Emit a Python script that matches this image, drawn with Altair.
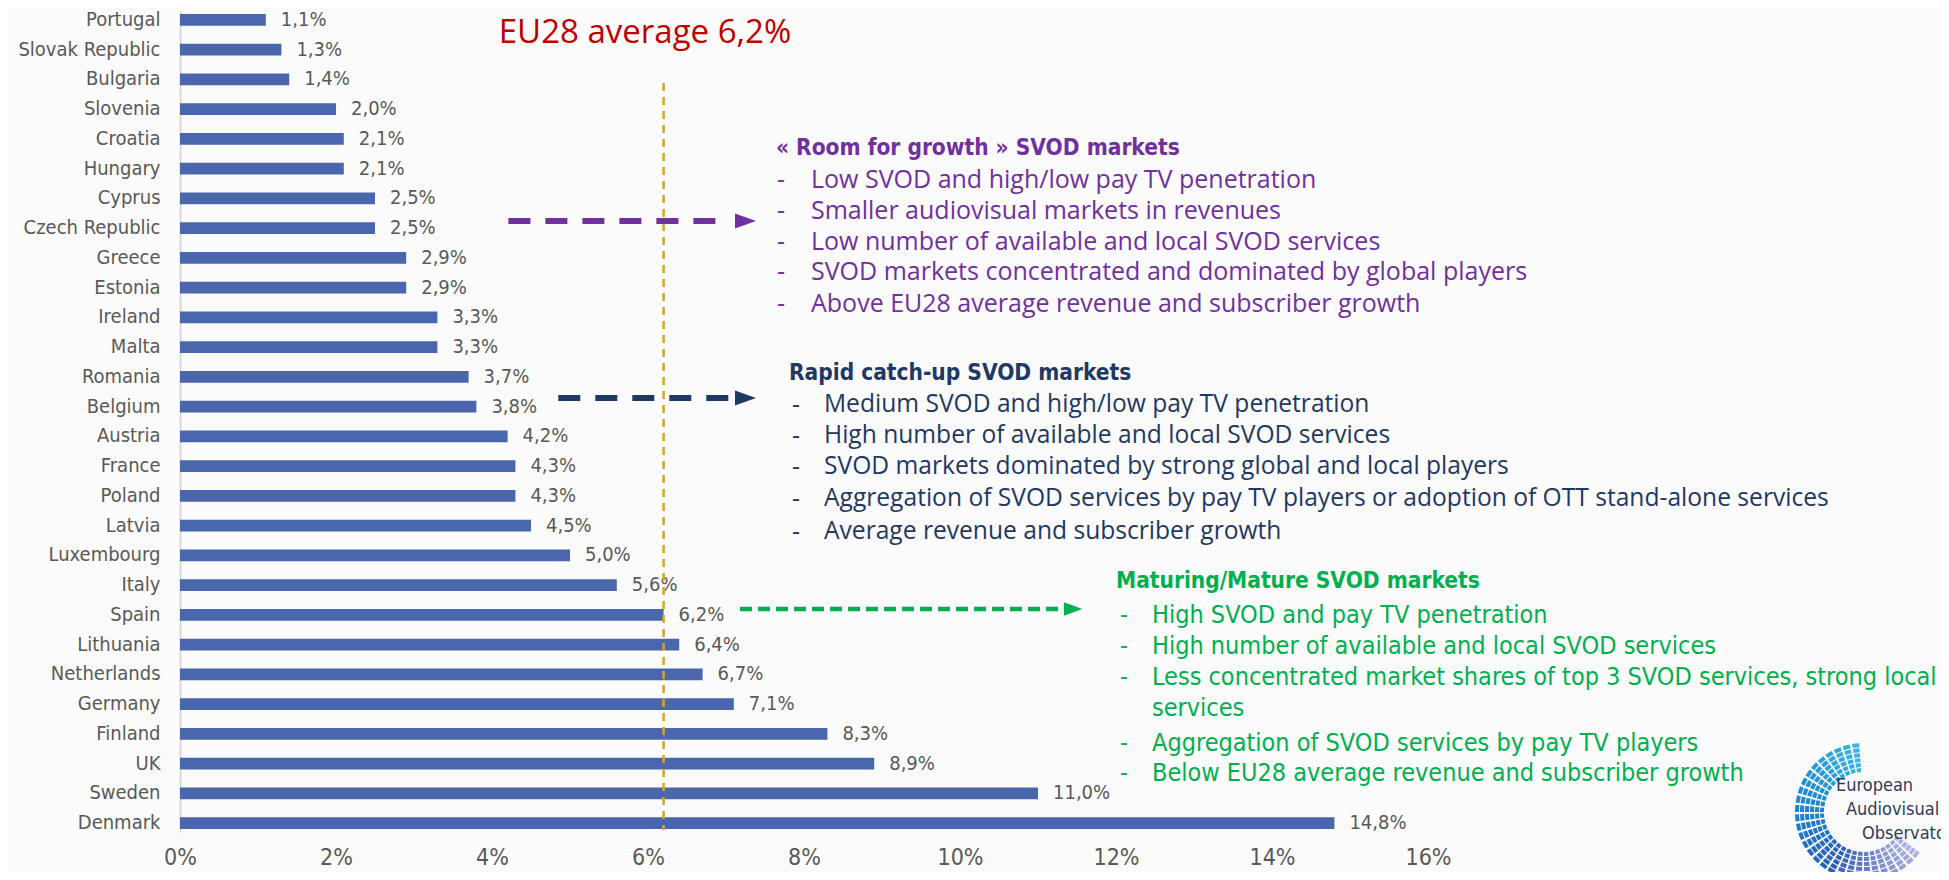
import altair as alt
import pandas as pd

# ---------------- data ----------------
countries = ["Portugal", "Slovak Republic", "Bulgaria", "Slovenia", "Croatia", "Hungary",
             "Cyprus", "Czech Republic", "Greece", "Estonia", "Ireland", "Malta", "Romania",
             "Belgium", "Austria", "France", "Poland", "Latvia", "Luxembourg", "Italy", "Spain",
             "Lithuania", "Netherlands", "Germany", "Finland", "UK", "Sweden", "Denmark"]
penetration = [1.1, 1.3, 1.4, 2.0, 2.1, 2.1, 2.5, 2.5, 2.9, 2.9, 3.3, 3.3, 3.7, 3.8, 4.2,
               4.3, 4.3, 4.5, 5.0, 5.6, 6.2, 6.4, 6.7, 7.1, 8.3, 8.9, 11.0, 14.8]
x_ticks = [0, 2, 4, 6, 8, 10, 12, 14, 16]
eu_average = [6.2]
eu_title = "EU28 average 6,2%"

room_title = "« Room for growth » SVOD markets"
room_lines = ["Low SVOD and high/low pay TV penetration",
              "Smaller audiovisual markets in revenues",
              "Low number of available and local SVOD services",
              "SVOD markets concentrated and dominated by global players",
              "Above EU28 average revenue and subscriber growth"]
rapid_title = "Rapid catch-up SVOD markets"
rapid_lines = ["Medium SVOD and high/low pay TV penetration",
               "High number of available and local SVOD services",
               "SVOD markets dominated by strong global and local players",
               "Aggregation of SVOD services by pay TV players or adoption of OTT stand-alone services",
               "Average revenue and subscriber growth"]
mature_title = "Maturing/Mature SVOD markets"
mature_lines = ["High SVOD and pay TV penetration",
                "High number of available and local SVOD services",
                "Less concentrated market shares of top 3 SVOD services, strong local",
                "services",
                "Aggregation of SVOD services by pay TV players",
                "Below EU28 average revenue and subscriber growth"]
mature_dash = [True, True, True, False, True, True]
logo_words = ["European", "Audiovisual", "Observatory"]

# arrows: start / end of dashed shaft and arrow head position, in % units
arrow_start = [4.21, 4.85, 7.18]
arrow_end = [7.05, 7.05, 11.3]
arrow_head = [7.25, 7.25, 11.45]

# ---------------- styling ----------------
NARROW = "Liberation Sans Narrow, DejaVu Sans Condensed, sans-serif"
SANS = "Open Sans, sans-serif"
GREY = "#595959"
PURPLE = "#7030A0"
NAVY = "#1F3864"
GREEN = "#00B050"
BAR = "#4A66AC"

df = pd.DataFrame({"country": countries, "value": penetration})
df["label"] = [f"{v:.1f}".replace(".", ",") + "%" for v in penetration]

x_enc = alt.X("value:Q", title=None,
              scale=alt.Scale(domain=[0, 16], nice=False, zero=True),
              axis=alt.Axis(values=x_ticks, labelExpr="datum.value + '%'", domain=False,
                            ticks=False, grid=False, labelFontSize=23, labelColor=GREY,
                            labelFont=NARROW, labelPadding=14, labelFlush=False))
y_enc = alt.Y("country:N", sort=countries, title=None,
              scale=alt.Scale(paddingInner=0.6, paddingOuter=0.1),
              axis=alt.Axis(ticks=False, domainColor="#D9D9D9", domainWidth=2,
                            labelPadding=20, labelFontSize=20, labelColor=GREY,
                            labelFont=NARROW, grid=False))

bars = alt.Chart(df).mark_bar(color=BAR).encode(x=x_enc, y=y_enc)
labels = alt.Chart(df).mark_text(align="left", baseline="middle", dx=15, fontSize=20,
                                 font=NARROW, color=GREY).encode(
    x=alt.X("value:Q", title=None), y=alt.Y("country:N", sort=countries, title=None),
    text="label:N")

OX, OY = 180, 11  # plot origin on the page

avg_df = pd.DataFrame({"avg": eu_average})
avg_rule = alt.Chart(avg_df).mark_rule(color="#D4A72C", strokeWidth=2.5,
                                       strokeDash=[8, 6]).encode(
    x=alt.X("avg:Q", title=None), y=alt.value(83 - OY), y2=alt.value(830 - OY))
avg_text = alt.Chart(avg_df).mark_text(text=eu_title, fontSize=33, font=SANS,
                                       color="#C00000", align="center",
                                       baseline="middle").encode(
    x=alt.value(645 - OX), y=alt.value(33 - OY))

layers = [bars, labels, avg_rule, avg_text]


def txt(s, px, py, color, size, font, weight="normal"):
    return alt.Chart(pd.DataFrame({"t": [s]})).mark_text(
        align="left", baseline="middle", fontSize=size, font=font, color=color,
        fontWeight=weight).encode(text="t:N", x=alt.value(px), y=alt.value(py))


BODY = 25
HEAD = 22.5

# Room for growth block
layers.append(txt(room_title, 776 - OX, 148 - OY, PURPLE, HEAD, NARROW, "bold"))
for i, line in enumerate(room_lines):
    py = [180, 211, 242, 272, 304][i] - OY
    layers.append(txt("-", 777 - OX, py, PURPLE, BODY, SANS))
    layers.append(txt(line, 811 - OX, py, PURPLE, BODY, SANS))

# Rapid catch-up block
layers.append(txt(rapid_title, 789 - OX, 373 - OY, NAVY, HEAD, NARROW, "bold"))
for i, line in enumerate(rapid_lines):
    py = [405, 436, 467, 499, 532][i] - OY
    layers.append(txt("-", 792 - OX, py, NAVY, BODY, SANS))
    layers.append(txt(line, 824 - OX, py, NAVY, 24.6, SANS))

# Mature block
layers.append(txt(mature_title, 1116 - OX, 581 - OY, GREEN, HEAD, NARROW, "bold"))
for i, line in enumerate(mature_lines):
    py = [615, 646, 677, 708, 743, 773][i] - OY
    if mature_dash[i]:
        layers.append(txt("-", 1120 - OX, py, GREEN, BODY, SANS))
    layers.append(txt(line, 1152 - OX, py, GREEN, 25, NARROW))

# arrows
arrow_y = [221 - OY, 398 - OY, 609 - OY]
arrow_col = [PURPLE, NAVY, GREEN]
arrow_dash = [[22, 15], [22, 15], [12, 6]]
arrow_w = [6, 6, 4.5]
head = "M -1 -0.72 L 1 0 L -1 0.72 Z"
for i in range(3):
    a = pd.DataFrame({"x0": [arrow_start[i]], "x1": [arrow_end[i]], "xh": [arrow_head[i]]})
    layers.append(alt.Chart(a).mark_rule(color=arrow_col[i], strokeWidth=arrow_w[i],
                                         strokeDash=arrow_dash[i]).encode(
        x=alt.X("x0:Q", title=None), x2="x1:Q", y=alt.value(arrow_y[i])))
    layers.append(alt.Chart(a).mark_point(shape=head, filled=True, opacity=1,
                                          color=arrow_col[i],
                                          size=440 if i < 2 else 340).encode(
        x=alt.X("xh:Q", title=None), y=alt.value(arrow_y[i])))

# logo (decorative): tiled arc + words
ring_inner = [40, 45, 50, 55, 60, 65]
seg_start_deg = list(range(126, 356, 8))
tiles = []
for r in ring_inner:
    for d in seg_start_deg:
        tiles.append({"t0": d * 3.14159265 / 180, "t1": (d + 6) * 3.14159265 / 180,
                      "r0": r, "r1": r + 4})
tiles_df = pd.DataFrame(tiles)
logo_arc = alt.Chart(tiles_df).mark_arc().encode(
    theta=alt.Theta("t0:Q", scale=None, stack=None), theta2="t1:Q",
    radius=alt.Radius("r0:Q", scale=None), radius2="r1:Q",
    color=alt.Color("t0:Q", legend=None,
                    scale=alt.Scale(domain=[2.2, 3.6, 6.2],
                                    range=["#A9B1E0", "#2B5EB8", "#3DB6E8"])),
    x=alt.value(1864 - OX), y=alt.value(812 - OY))
layers.append(logo_arc)
for w, (px, py) in zip(logo_words, [(1836, 786), (1846, 810), (1862, 834)]):
    layers.append(txt(w, px - OX, py - OY, "#2D3B5A", 18, NARROW))

chart = alt.layer(*layers).properties(
    width=1248, height=821,
    padding={"left": 172, "top": 3, "right": 513, "bottom": 40},
    autosize=alt.AutoSizeParams(type="none"),
    background="#FBFBFB",
).configure_view(stroke=None)

chart.save("out.html", embed_options={"renderer": "svg", "actions": False})
